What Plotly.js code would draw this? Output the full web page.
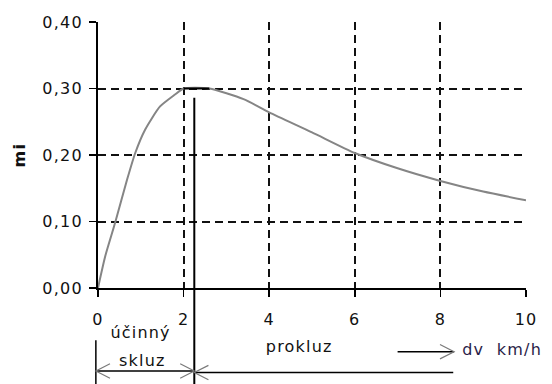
<!DOCTYPE html>
<html>
<head>
<meta charset="utf-8">
<script src="https://cdn.plot.ly/plotly-3.0.1.min.js"></script>
<style>
  html, body { margin: 0; padding: 0; background: #fff; }
  #chart { width: 552px; height: 384px; }
  .main-svg text { letter-spacing: 1.2px; }
</style>
</head>
<body>
<div id="chart"></div>
<script>
// slip speed difference dv [km/h] and adhesion coefficient mi
const dv = [0, 0.17, 0.40, 0.68, 0.87, 1.10, 1.45, 1.80, 2.0, 2.6, 3.4, 4.0, 5.0, 6.0, 7.0, 8.0, 9.0, 10.0];
const mi = [0, 0.048, 0.098, 0.163, 0.203, 0.238, 0.273, 0.291, 0.300, 0.300, 0.284, 0.264, 0.234, 0.203, 0.180, 0.161, 0.145, 0.132];

const xTicks = [0, 2, 4, 6, 8, 10];
const yTicks = [0, 0.1, 0.2, 0.3, 0.4];

const peakDv = 2.0;        // end of effective slip (peak of mi)
const peakMi = 0.30;
const plateauEnd = 2.6;
const zoneBoundary = 2.25; // separator between the two zones

const xRange = [0, 10];
const yRange = [0, 0.4];

const FONT = 'DejaVu Sans, Arial, sans-serif';
const INK = '#111';
const GREY = '#7a7a7a';

// axis value -> paper fraction
const px = v => (v - xRange[0]) / (xRange[1] - xRange[0]);
const py = v => (v - yRange[0]) / (yRange[1] - yRange[0]);

const trace = {
  x: dv, y: mi, type: 'scatter', mode: 'lines',
  line: { color: '#858585', width: 2, shape: 'spline', smoothing: 0.6 },
  hoverinfo: 'skip', showlegend: false
};

const axisCommon = {
  showline: true, linecolor: '#000', linewidth: 2,
  ticks: 'outside', ticklen: 7, tickwidth: 1.5, tickcolor: '#000',
  showgrid: true, gridcolor: '#111', gridwidth: 2, griddash: '8px,5px',
  zeroline: false, fixedrange: true,
  tickfont: { family: FONT, size: 16, color: INK }
};

// companion axes: the inner half of the tick marks, so ticks cross the axis lines
const innerTicks = {
  ticks: 'inside', ticklen: 7, tickwidth: 1.5, tickcolor: '#000',
  showticklabels: false, showgrid: false, showline: false, zeroline: false, fixedrange: true
};

// geometry of the annotation arrows below the axis (paper units)
const yArrowL = -0.312, yArrowR = -0.318, yArrowText = -0.2395;
const headW = 0.033, headH = 0.027;

function chevron(xTip, y, dir) {
  // open arrow head; dir = +1 points right, -1 points left
  const xb = xTip - dir * headW;
  return {
    type: 'path', xref: 'paper', yref: 'paper',
    path: `M ${xb} ${y + headH} L ${xTip} ${y} L ${xb} ${y - headH}`,
    line: { color: GREY, width: 1.2 }
  };
}

const shapes = [
  // black plateau of the maximum
  { type: 'line', xref: 'x', yref: 'y', x0: peakDv, x1: plateauEnd, y0: peakMi, y1: peakMi,
    line: { color: '#000', width: 2 } },
  // zone boundary line
  { type: 'line', xref: 'paper', yref: 'paper', x0: px(zoneBoundary), x1: px(zoneBoundary),
    y0: py(0.286), y1: -0.37, line: { color: '#000', width: 2 } },
  // left limit of the effective slip zone
  { type: 'line', xref: 'paper', yref: 'paper', x0: -0.005, x1: -0.005,
    y0: -0.196, y1: -0.37, line: { color: '#000', width: 1.5 } },
  // effective slip span
  { type: 'line', xref: 'paper', yref: 'paper', x0: -0.005, x1: px(zoneBoundary),
    y0: yArrowL, y1: yArrowL, line: { color: '#000', width: 1.5 } },
  chevron(-0.005, yArrowL, -1),
  chevron(px(zoneBoundary), yArrowL, 1),
  // slip (prokluz) span
  { type: 'line', xref: 'paper', yref: 'paper', x0: px(zoneBoundary), x1: px(8.3),
    y0: yArrowR, y1: yArrowR, line: { color: '#000', width: 1.5 } },
  chevron(px(zoneBoundary), yArrowR, -1),
  // dv direction arrow
  { type: 'line', xref: 'paper', yref: 'paper', x0: px(7.0), x1: px(8.32),
    y0: yArrowText, y1: yArrowText, line: { color: '#000', width: 1.5 } },
  chevron(px(8.32), yArrowText, 1)
];

const txt = (text, x, y, extra) => Object.assign({
  text, x, y, xref: 'paper', yref: 'paper', showarrow: false,
  xanchor: 'center', yanchor: 'middle',
  font: { family: FONT, size: 16, color: INK }
}, extra || {});

const annotations = [
  txt('mi', -0.184, 0.5, { textangle: -90, font: { family: FONT, size: 16, color: INK, weight: 'bold' } }),
  txt('účinný', px(0.99), -0.168),
  txt('skluz', px(1.03), -0.2735),
  txt('prokluz', px(4.70), -0.221),
  txt('dv  km/h', px(8.58), -0.232, { xanchor: 'left', font: { family: FONT, size: 16, color: '#2a1d48' } })
];

const layout = {
  width: 552, height: 384,
  margin: { l: 98, r: 26, t: 22, b: 96 },
  paper_bgcolor: '#fff', plot_bgcolor: '#fff',
  separators: ',.',
  showlegend: false,
  xaxis: Object.assign({}, axisCommon, {
    range: xRange, tickvals: xTicks, ticktext: xTicks.map(String),
    ticklabelstandoff: 9
  }),
  yaxis: Object.assign({}, axisCommon, {
    range: yRange, tickvals: yTicks, tickformat: '.2f',
    ticklabelstandoff: 3
  }),
  xaxis2: Object.assign({}, innerTicks, { overlaying: 'x', anchor: 'y', side: 'bottom', range: xRange, tickvals: xTicks }),
  yaxis2: Object.assign({}, innerTicks, { overlaying: 'y', anchor: 'x', side: 'left', range: yRange, tickvals: yTicks }),
  shapes, annotations
};

Plotly.newPlot('chart', [trace], layout, { displayModeBar: false, staticPlot: true });
</script>
</body>
</html>
